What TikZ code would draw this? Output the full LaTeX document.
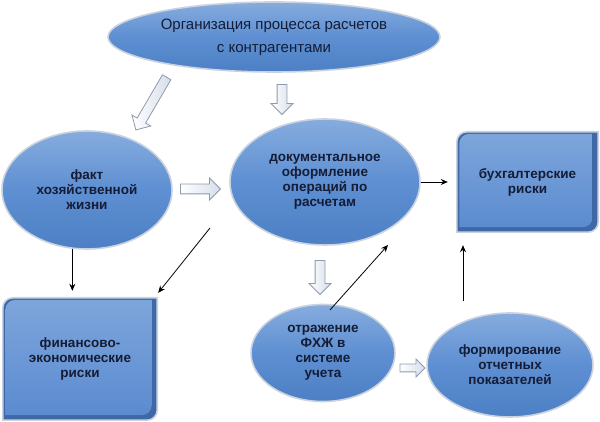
\documentclass[tikz,border=0pt]{standalone}
\usepackage{fontspec}
\setmainfont{Liberation Sans}
\usetikzlibrary{shapes.geometric,shapes.arrows,arrows.meta}
\definecolor{bluetop}{HTML}{86ACDE}
\definecolor{bluebot}{HTML}{4C7FC4}
\definecolor{bluemid}{HTML}{5E8FD2}
\definecolor{boxfill}{HTML}{5B8BD0}
\definecolor{boxedge}{HTML}{3E68A6}
\definecolor{rim}{HTML}{C9D2DE}
\definecolor{txt}{HTML}{141C36}
\definecolor{hollowfill}{HTML}{D6DEEA}
\definecolor{hollowdraw}{HTML}{8E9AAE}
\newcommand\riskshape[2]{% #1 node name, #2 inset
  \path[#2] ([shift={(0,0)}]#1.south west) -- ([yshift=-10pt]#1.north west)
    arc[start angle=180,end angle=90,radius=10pt] -- (#1.north east)
    -- ([yshift=10pt]#1.south east) arc[start angle=0,end angle=-90,radius=10pt] -- cycle;}
\begin{document}
\begin{tikzpicture}[x=1pt,y=1pt,
  oval/.style={ellipse, inner sep=0pt, top color=bluetop, bottom color=bluebot, middle color=bluemid,
    draw=rim, line width=1.6pt, text=txt, font=\fontsize{13.5}{15}\selectfont\bfseries, align=center},
  boxrisk/.style={rectangle, inner sep=0pt, text=txt, font=\fontsize{13.5}{15}\selectfont\bfseries, align=center},
  hollow/.style={single arrow, draw=hollowdraw, line width=0.8pt, left color=white, right color=hollowfill,
    inner sep=4.5pt, single arrow head extend=6pt, minimum height=#1, shape border uses incircle=false},
  conn/.style={-{Stealth[length=7pt,width=6pt]}, line width=0.8pt, black}]
\useasboundingbox (0,0) rectangle (600,422);

\node[oval, minimum width=332, minimum height=70, font=\fontsize{15}{23}\selectfont] (top) at (274,385)
  {Организация процесса расчетов\\с контрагентами};
\node[oval, minimum width=170, minimum height=118] (fact) at (87,232) {факт\\хозяйственной\\жизни};
\node[oval, minimum width=190, minimum height=126] (doc) at (325,240) {документальное\\оформление\\операций по\\расчетам};
\node[oval, minimum width=144, minimum height=97] (otr) at (323,69) {отражение\\ФХЖ в\\системе\\учета};
\node[oval, minimum width=166, minimum height=104] (form) at (510,57) {формирование\\отчетных\\показателей};

% risk boxes (rounded top-left and bottom-right corners, bevelled)
\path (527.5,240) coordinate (buhc);
\path (80,63) coordinate (finc);
\node[boxrisk, minimum width=141, minimum height=100] (buhs) at (buhc) {};
\node[boxrisk, minimum width=154, minimum height=122] (fins) at (finc) {};
\riskshape{buhs}{fill=boxedge, draw=rim, line width=1.6pt}
\riskshape{fins}{fill=boxedge, draw=rim, line width=1.6pt}
\node[boxrisk, minimum width=133, minimum height=93] (buhi) at ([shift={(-1.5,1.5)}]buhc) {};
\node[boxrisk, minimum width=146, minimum height=115] (fini) at ([shift={(-1.5,1.5)}]finc) {};
\riskshape{buhi}{top color=bluetop!80!boxfill, bottom color=boxfill}
\riskshape{fini}{top color=bluetop!80!boxfill, bottom color=boxfill}
\node[boxrisk, minimum width=141, minimum height=100] (buh) at (buhc) {бухгалтерские\\риски};
\node[boxrisk, minimum width=154, minimum height=122] (fin) at (finc) {финансово-\\экономические\\риски};

% hollow block arrows
\node[hollow=61, rotate=239.7] (h1) at (152.5,320.5) {};
\node[hollow=30, rotate=-90] (h2) at (282,325) {};
\node[hollow=40] (h3) at (198,233) {};
\node[hollow=34, rotate=-90] (h4) at (320,147) {};
\node[hollow=25, inner sep=3.5pt, single arrow head extend=5pt] (h5) at (410.5,54) {};

% thin connectors
\coordinate (d1) at (210,194);
\coordinate (d2) at (388,177);
\coordinate (c3) at (463,0);
\path (otr.center) ++(7,43) coordinate (o1);
\draw[conn, shorten >=9pt] (doc.east) -- (buh.west);
\draw[conn, shorten >=7pt] (fact.256) -- (fact.256 |- fin.north);
\draw[conn] (d1) -- ([shift={(1,5)}]fin.north east);
\draw[conn] (o1) -- (d2);
\draw[conn, shorten <=11pt, shorten >=13pt] (form.north -| c3) -- (buh.south -| c3);
\end{tikzpicture}
\end{document}
